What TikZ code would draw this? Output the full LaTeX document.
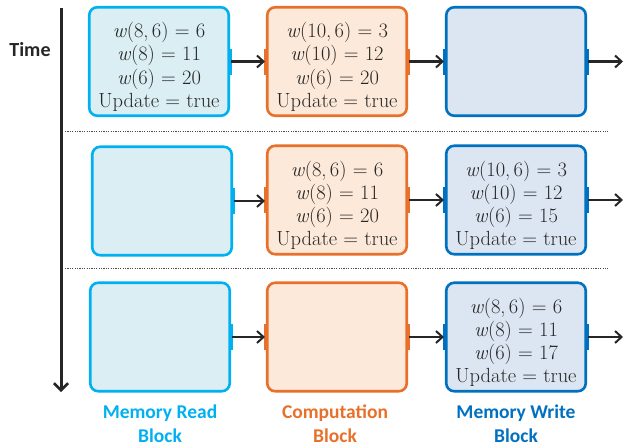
\RequirePackage{fix-cm}
\documentclass[tikz,border=0pt]{standalone}
\usepackage{fontspec}
\newfontfamily\lblfont{Carlito}
\usetikzlibrary{arrows.meta}
\definecolor{rdline}{HTML}{00B0F0}
\definecolor{rdfill}{HTML}{DAEEF3}
\definecolor{cpline}{HTML}{E8702A}
\definecolor{cpfill}{HTML}{FDE9D9}
\definecolor{wrline}{HTML}{0070C0}
\definecolor{wrfill}{HTML}{DCE6F2}
\definecolor{ink}{HTML}{262626}
% extra room above the first text line, pushes the block text a little lower
\newcommand\firstline{\rule{0pt}{26pt}}
% one weight entry, e.g. \wt{8,\,6}{6}
\newcommand\wt[2]{\textit{w}(#1) = #2}
\begin{document}
\begin{tikzpicture}[x=1pt,y=-1pt,
  blk/.style={rounded corners=8pt, line width=2.6pt, minimum width=139.5pt,
    minimum height=108.5pt, inner sep=0pt, align=center,
    font=\fontsize{20.5}{23.2}\selectfont, text=ink},
  rd/.style={blk, draw=rdline, fill=rdfill},
  cp/.style={blk, draw=cpline, fill=cpfill},
  wr/.style={blk, draw=wrline, fill=wrfill},
  tab/.style={line width=4.5pt},
  flow/.style={-{Straight Barb[length=6.5pt,width=12pt,line width=2pt]}, line width=2.3pt, ink},
  sep/.style={line width=0.8pt, gray!60!black, dash pattern=on 1.2pt off 1.2pt},
  lbl/.style={font=\lblfont\bfseries\fontsize{19.5}{24}\selectfont, align=center}
]
\useasboundingbox (0,0) rectangle (625,447);

% time axis
\node[font=\lblfont\bfseries\fontsize{20}{24}\selectfont, text=ink] (time) at (30,50) {Time};
\coordinate (t0) at (61,8);
\coordinate (t1) at (61,392);
\draw[line width=3pt, ink, -{Straight Barb[length=7pt,width=14pt,line width=2.6pt]}] (t0) -- (t1);

% row separators
\coordinate (s1a) at (65,131);   \coordinate (s1b) at (608,131);
\coordinate (s2a) at (65,268.5); \coordinate (s2b) at (608,268.5);
\draw[sep] (s1a) -- (s1b);
\draw[sep] (s2a) -- (s2b);

% row 1
\node[rd] (A1) at (159,61.5) {\firstline\wt{8,\,6}{6}\\\wt{8}{11}\\\wt{6}{20}\\Update = true};
\node[cp] (B1) at (337,61.5) {\firstline\wt{10,\,6}{3}\\\wt{10}{12}\\\wt{6}{20}\\Update = true};
\node[wr] (C1) at (516,61.5) {};
\coordinate (E1) at (623,61.5);

% row 2
\node[rd] (A2) at (162,201) {};
\node[cp] (B2) at (337,200) {\firstline\wt{8,\,6}{6}\\\wt{8}{11}\\\wt{6}{20}\\Update = true};
\node[wr] (C2) at (516,200) {\firstline\wt{10,\,6}{3}\\\wt{10}{12}\\\wt{6}{15}\\Update = true};
\coordinate (E2) at (623,200);

% row 3
\node[rd] (A3) at (160,337) {};
\node[cp] (B3) at (337,337) {};
\node[wr] (C3) at (516,337) {\firstline\wt{8,\,6}{6}\\\wt{8}{11}\\\wt{6}{17}\\Update = true};
\coordinate (E3) at (623,337);

% port tabs and connectors
\foreach \r in {1,2,3}{
  \draw[tab, rdline] ([yshift=13pt]A\r.east) -- ([yshift=-13pt]A\r.east);
  \draw[tab, cpline] ([yshift=13pt]B\r.west) -- ([yshift=-13pt]B\r.west);
  \draw[tab, cpline] ([yshift=13pt]B\r.east) -- ([yshift=-13pt]B\r.east);
  \draw[tab, wrline] ([yshift=13pt]C\r.west) -- ([yshift=-13pt]C\r.west);
  \draw[tab, wrline] ([yshift=13pt]C\r.east) -- ([yshift=-13pt]C\r.east);
  \draw[flow] ([xshift=1pt]A\r.east) -- ([xshift=-1pt]A\r.east -| B\r.west);
  \draw[flow] ([xshift=1pt]B\r.east) -- ([xshift=-1pt]C\r.west);
  \draw[flow] ([xshift=1pt]C\r.east) -- (E\r);
}

% column labels
\node[lbl, text=rdline] (LA) at (160,424) {Memory Read\\Block};
\node[lbl, text=cpline] (LB) at (335,424) {Computation\\Block};
\node[lbl, text=wrline] (LC) at (516,424) {Memory Write\\Block};
\end{tikzpicture}
\end{document}
